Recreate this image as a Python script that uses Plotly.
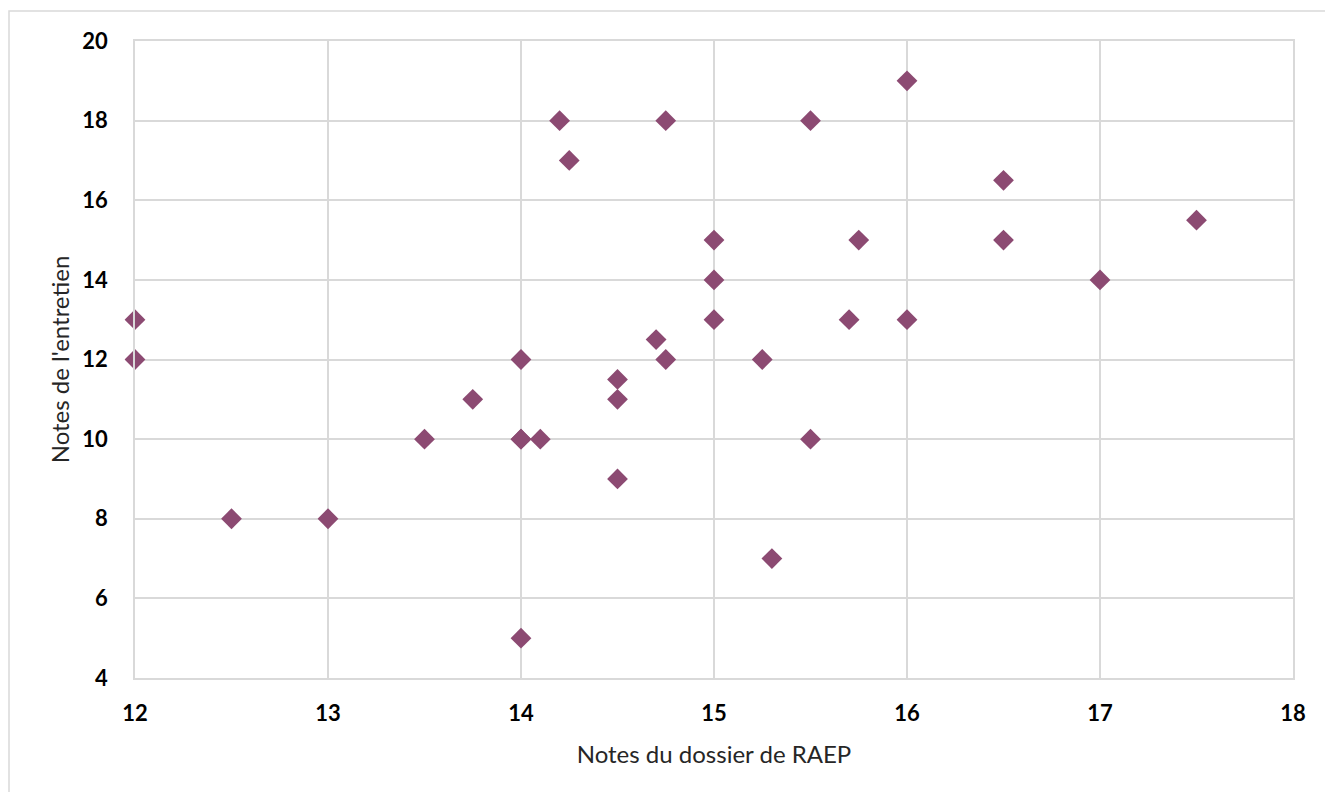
import plotly.graph_objects as go

# Notes du dossier de RAEP (x) et notes de l'entretien (y)
dossier = [12, 12, 12.5, 13, 13.5, 13.75, 14, 14, 14, 14.1, 14, 14.2, 14.25,
           14.5, 14.5, 14.5, 14.7, 14.75, 14.75, 15, 15, 15, 15.25, 15.3,
           15.5, 15.5, 15.7, 15.75, 16, 16, 16.5, 16.5, 17, 17.5]
entretien = [13, 12, 8, 8, 10, 11, 12, 10, 10, 10, 5, 18, 17,
             11.5, 11, 9, 12.5, 18, 12, 15, 14, 13, 12, 7,
             18, 10, 13, 15, 19, 13, 16.5, 15, 14, 15.5]

x_ticks = [12, 13, 14, 15, 16, 17, 18]
y_ticks = [4, 6, 8, 10, 12, 14, 16, 18, 20]

W, H = 1325, 792
L, R, T, B = 135, 32, 41, 114
pw, ph = W - L - R, H - T - B

FONT = "Lato, Open Sans, sans-serif"

fig = go.Figure(go.Scatter(
    x=dossier, y=entretien, mode="markers",
    marker=dict(symbol="diamond", size=16, color="#8c4a72",
                line=dict(width=0)),
    showlegend=False, cliponaxis=False,
))

grid = "#d9d9d9"
fig.update_xaxes(
    range=[12, 18], tickvals=x_ticks, showgrid=True, gridcolor=grid,
    gridwidth=1.5, zeroline=False, showline=True, linecolor=grid,
    linewidth=1.5, mirror=True, ticks="", ticklabelstandoff=15,
    tickfont=dict(family=FONT, size=22, color="#000000", weight="bold"),
    title=dict(text="Notes du dossier de RAEP", standoff=21,
               font=dict(family=FONT, size=24, color="#262626")),
)
fig.update_yaxes(
    range=[4, 20], tickvals=y_ticks, showgrid=True, gridcolor=grid,
    gridwidth=1.5, zeroline=False, showline=True, linecolor=grid,
    linewidth=1.5, mirror=True, ticks="", ticklabelstandoff=21,
    tickfont=dict(family=FONT, size=22, color="#000000", weight="bold"),
    title=dict(text="Notes de l'entretien", standoff=6,
               font=dict(family=FONT, size=24, color="#262626")),
)

# chart frame
fig.add_shape(type="rect", xref="paper", yref="paper",
              x0=(9 - L) / pw, x1=(W + 10 - L) / pw,
              y0=(H - B - (H + 10)) / ph, y1=(H - B - 11) / ph,
              line=dict(color="#d9d9d9", width=1.5), fillcolor="rgba(0,0,0,0)",
              layer="below")

fig.update_layout(
    width=W, height=H,
    margin=dict(l=L, r=R, t=T, b=B),
    paper_bgcolor="white", plot_bgcolor="white",
)

fig.write_html("out.html")
